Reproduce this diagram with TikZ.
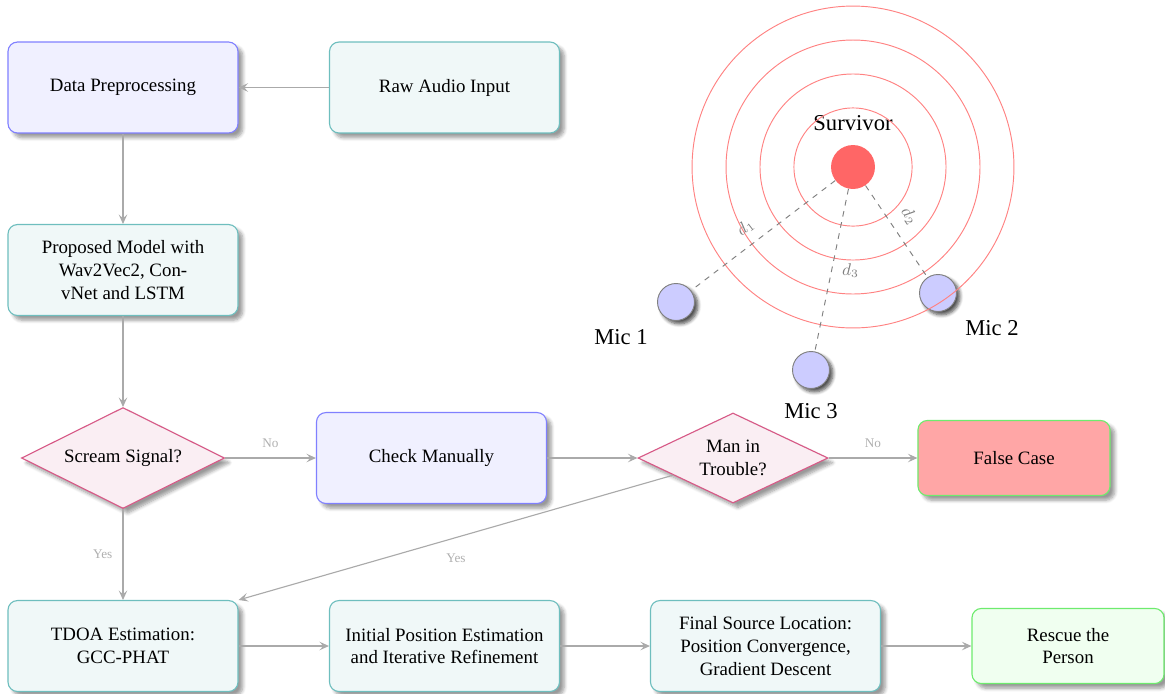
\documentclass[tikz,border=0pt]{standalone}
\usepackage{fontspec}
\setmainfont{Liberation Serif}
\usetikzlibrary{shapes.geometric,arrows.meta,shadows.blur}
\definecolor{bluefill}{RGB}{240,240,255}
\definecolor{blueline}{RGB}{128,128,255}
\definecolor{tealfill}{RGB}{240,248,248}
\definecolor{tealline}{RGB}{110,190,190}
\definecolor{pinkfill}{RGB}{250,238,243}
\definecolor{pinkline}{RGB}{215,90,135}
\definecolor{falsefill}{RGB}{255,166,166}
\definecolor{greenline}{RGB}{110,235,110}
\definecolor{rescuefill}{RGB}{240,255,240}
\definecolor{arrowgray}{RGB}{170,170,170}
\definecolor{labelgray}{RGB}{175,175,175}
\definecolor{ringred}{RGB}{255,130,130}
\definecolor{dotred}{RGB}{255,102,102}
\definecolor{micfill}{RGB}{204,204,255}
\begin{document}
\begin{tikzpicture}[x=0.53pt,y=-0.53pt,
  basebox/.style={rectangle, rounded corners=5pt, align=center, line width=0.6pt,
    blur shadow={shadow blur steps=6, shadow xshift=2.5pt, shadow yshift=-2.5pt}},
  bigbox/.style={basebox, minimum width=121.9pt, minimum height=48.2pt},
  smallbox/.style={basebox, minimum width=101.8pt, minimum height=39.8pt},
  bluebox/.style={bigbox, draw=blueline, fill=bluefill},
  tealbox/.style={bigbox, draw=tealline, fill=tealfill},
  falsebox/.style={smallbox, draw=greenline, fill=falsefill},
  rescuebox/.style={smallbox, draw=greenline, fill=rescuefill},
  decision/.style={diamond, draw=pinkline, fill=pinkfill, align=center, inner sep=0pt, line width=0.6pt,
    blur shadow={shadow blur steps=6, shadow xshift=2.5pt, shadow yshift=-2.5pt}},
  arr/.style={draw=arrowgray, line width=0.6pt, -{Stealth[length=5pt,width=4.5pt,inset=2pt]}},
  edgelabel/.style={text=labelgray, font=\scriptsize},
  ring/.style={draw=ringred, line width=0.5pt},
  mic/.style={circle, draw=gray, fill=micfill, minimum size=19.6pt, inner sep=0pt, line width=0.5pt,
    blur shadow={shadow blur steps=6, shadow xshift=1.8pt, shadow yshift=-1.8pt, shadow opacity=70}},
  distline/.style={draw=gray, dashed, line width=0.5pt},
  distlabel/.style={text=gray, font=\small},
  bigtext/.style={font=\large}
]
\useasboundingbox (0,0) rectangle (1165,693);

% flowchart nodes
\node[bluebox] (dp) at (123,87.5) {Data Preprocessing};
\node[tealbox] (raw) at (444.5,87.5) {Raw Audio Input};
\node[tealbox] (pm) at (123,270) {Proposed Model with\\Wav2Vec2, Con-\\vNet and LSTM};
\node[decision, shape aspect=2, minimum width=107.6pt, minimum height=53.5pt] (ss) at (123,458) {Scream Signal?};
\node[bluebox] (cm) at (431.5,458) {Check Manually};
\node[decision, shape aspect=2.1, minimum width=100.7pt, minimum height=47.7pt] (mit) at (733,458) {Man in\\Trouble?};
\node[falsebox] (fc) at (1014,458) {False Case};
\node[tealbox] (tdoa) at (123,646) {TDOA Estimation:\\GCC-PHAT};
\node[tealbox] (ipe) at (444.5,646) {Initial Position Estimation\\and Iterative Refinement};
\node[tealbox] (fsl) at (765.5,646) {Final Source Location:\\Position Convergence,\\Gradient Descent};
\node[rescuebox] (rp) at (1068,646) {Rescue the\\Person};

% flowchart connectors
\draw[arr] (raw) -- (dp);
\draw[arr] (dp) -- (pm);
\draw[arr] (pm) -- (ss);
\draw[arr] (ss) -- node[edgelabel, above=2pt] {No} (cm);
\draw[arr] (cm) -- (mit);
\draw[arr] (mit) -- node[edgelabel, above=2pt] {No} (fc);
\draw[arr] (ss) -- node[edgelabel, left=2pt] {Yes} (tdoa);
\draw[arr] (mit) -- node[edgelabel, below=5pt] {Yes} (tdoa.north east);
\draw[arr] (tdoa) -- (ipe);
\draw[arr] (ipe) -- (fsl);
\draw[arr] (fsl) -- (rp);

% localisation sketch
\node[circle, fill=dotred, minimum size=23.3pt, inner sep=0pt] (surv) at (853,167) {};
\node[bigtext] (survlabel) at (853,123) {Survivor};
\node[mic] (m1) at (676,302) {};
\node[mic] (m2) at (938,293) {};
\node[mic] (m3) at (811,370) {};
\node[bigtext] (l1) at (621,337) {Mic 1};
\node[bigtext] (l2) at (992,328) {Mic 2};
\node[bigtext] (l3) at (811,411) {Mic 3};

\draw[ring] (surv.center) circle[radius=31.3pt];
\draw[ring] (surv.center) circle[radius=49.3pt];
\draw[ring] (surv.center) circle[radius=67.3pt];
\draw[ring] (surv.center) circle[radius=85.3pt];

\draw[distline] (surv) -- node[distlabel, pos=0.55, sloped, above=2pt] {$d_1$} (m1);
\draw[distline] (surv) -- node[distlabel, pos=0.45, sloped, above=3pt] {$d_2$} (m2);
\draw[distline] (surv) -- node[distlabel, pos=0.5, right=2pt] {$d_3$} (m3);
\end{tikzpicture}
\end{document}
